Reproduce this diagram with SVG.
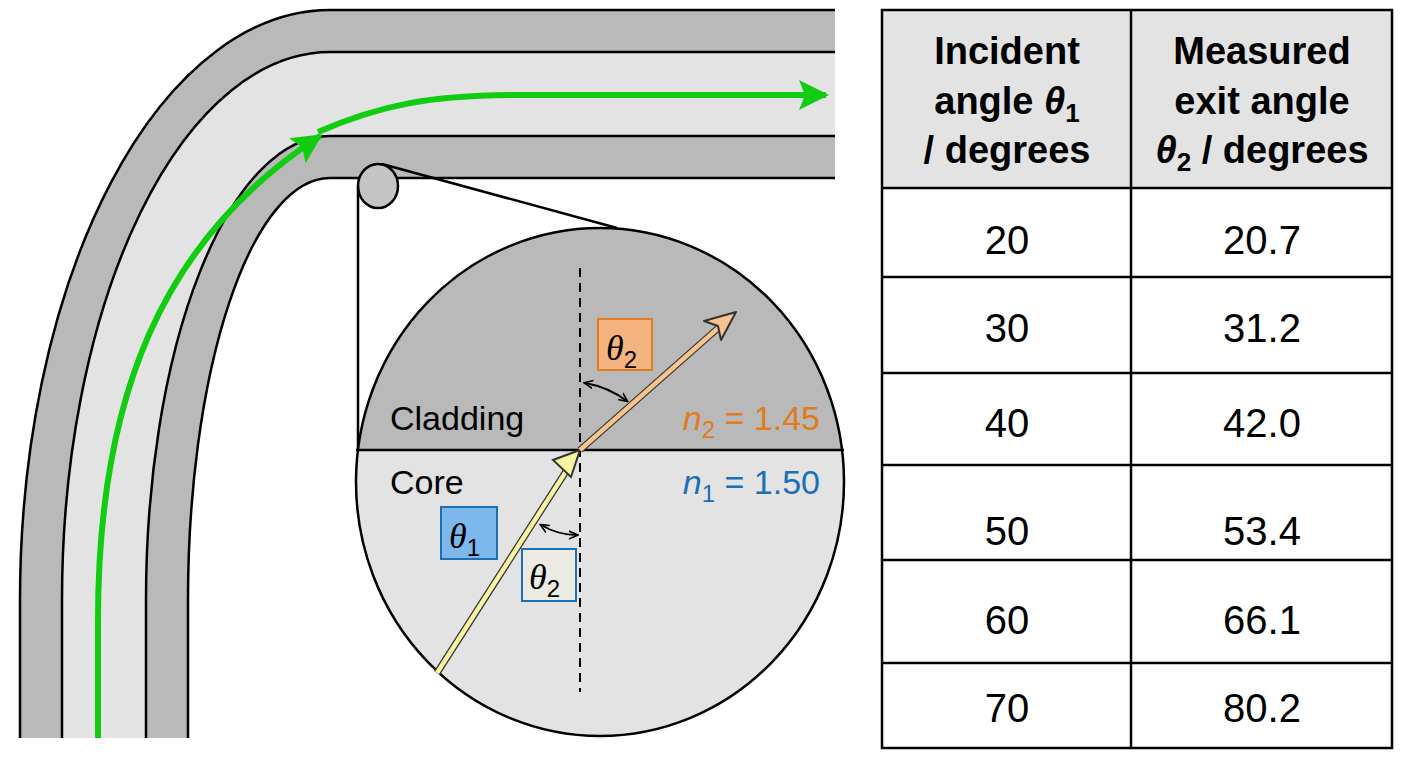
<svg xmlns="http://www.w3.org/2000/svg" width="1408" height="768" viewBox="0 0 1408 768">
<style>
.ln{stroke:#000;stroke-width:2.5;fill:none}
.t{font-family:"Liberation Sans",Arial,sans-serif}
.hd{font-family:"Liberation Sans",Arial,sans-serif;font-weight:bold;font-size:38px;text-anchor:middle}
.num{font-family:"Liberation Sans",Arial,sans-serif;font-size:40px;text-anchor:middle}
.th{font-family:"Liberation Serif","Times New Roman",serif;font-style:italic}
</style>
<defs>
<marker id="ga" viewBox="0 0 10 10" refX="9" refY="5" markerWidth="5" markerHeight="5" orient="auto" markerUnits="strokeWidth"><path d="M0,0L10,5L0,10L2,5z" fill="#11cc11"/></marker>
<marker id="da" viewBox="0 0 10 10" refX="8" refY="5" markerWidth="5" markerHeight="5" orient="auto-start-reverse"><path d="M0,1L9,5L0,9" fill="none" stroke="#000" stroke-width="1.6"/></marker>
</defs>
<rect width="1408" height="768" fill="#fff"/>
<g id="fiber">
<path d="M20,738 V600 A310,590 0 0 1 330,10 H835 V178 H330 A142,422 0 0 0 188,600 V738 Z" fill="#b9b9b9"/>
<path d="M62,738 V600 A268,548 0 0 1 330,52 H835 V136 H330 A184,464 0 0 0 146,600 V738 Z" fill="#e3e3e3"/>
<path class="ln" d="M20,738 V600 A310,590 0 0 1 330,10 H835"/>
<path class="ln" d="M62,738 V600 A268,548 0 0 1 330,52 H835"/>
<path class="ln" d="M146,738 V600 A184,464 0 0 1 330,136 H835"/>
<path class="ln" d="M188,738 V600 A142,422 0 0 1 330,178 H835"/>
</g>
<g id="lightpath">
<path d="M98,738 V620 C98,400 160,240 320,136" fill="none" stroke="#11cc11" stroke-width="6" marker-end="url(#ga)"/>
<path d="M318,132 C380,105 430,95 520,95 H826" fill="none" stroke="#11cc11" stroke-width="6" marker-end="url(#ga)"/>
</g>
<g id="zoom">
<ellipse cx="378" cy="186" rx="20" ry="22" fill="#c4c4c4" stroke="#000" stroke-width="2.5"/>
<line class="ln" x1="358" y1="186" x2="358" y2="450"/>
<line class="ln" x1="382" y1="164" x2="617" y2="228"/>
</g>
<g id="detail">
<clipPath id="cc"><ellipse cx="600" cy="482" rx="244" ry="254"/></clipPath>
<g clip-path="url(#cc)">
<rect x="340" y="220" width="520" height="230" fill="#b9b9b9"/>
<rect x="340" y="450" width="520" height="300" fill="#e3e3e3"/>
</g>
<ellipse cx="600" cy="482" rx="244" ry="254" fill="none" stroke="#000" stroke-width="2.5"/>
<line x1="356" y1="450" x2="844" y2="450" stroke="#000" stroke-width="2.5"/>
<line x1="580" y1="268" x2="580" y2="692" stroke="#000" stroke-width="2" stroke-dasharray="9,6"/>
<path d="M437,673 L572,462" stroke="#333" stroke-width="7"/>
<path d="M437,673 L572,462" stroke="#f7f3a0" stroke-width="4.5"/>
<path d="M580,450 L553,460 L571,477 Z" fill="#f7f3a0" stroke="#333" stroke-width="2"/>
<path d="M580,450 L725,322" stroke="#333" stroke-width="7"/>
<path d="M580,450 L725,322" stroke="#f6c48c" stroke-width="4.5"/>
<path d="M736,312 L704,321 L718,326 L721,340 Z" fill="#f6c48c" stroke="#333" stroke-width="2" stroke-linejoin="round"/>
<path d="M585,383 Q608,387 627,401" fill="none" stroke="#000" stroke-width="2" marker-start="url(#da)" marker-end="url(#da)"/>
<path d="M541,525 Q558,535 577,535" fill="none" stroke="#000" stroke-width="2" marker-start="url(#da)" marker-end="url(#da)"/>
<rect x="598" y="319" width="54" height="51" fill="#f5b380" stroke="#e07b20" stroke-width="2"/>
<text x="606" y="360" class="th" font-size="36">θ<tspan class="t" font-style="normal" font-size="24" dy="8">2</tspan></text>
<rect x="441" y="507" width="56" height="52" fill="#7db8ec" stroke="#1a6fb5" stroke-width="2"/>
<text x="449" y="548" class="th" font-size="36">θ<tspan class="t" font-style="normal" font-size="24" dy="8">1</tspan></text>
<rect x="522" y="549" width="54" height="52" fill="#ecebe3" stroke="#1a6fb5" stroke-width="2"/>
<text x="529" y="589" class="th" font-size="36">θ<tspan class="t" font-style="normal" font-size="24" dy="8">2</tspan></text>
<text x="390" y="430" class="t" font-size="34">Cladding</text>
<text x="390" y="494" class="t" font-size="34">Core</text>
<text x="820" y="430" class="t" font-size="34" fill="#e07b20" text-anchor="end"><tspan font-style="italic">n</tspan><tspan font-size="24" dy="8">2</tspan><tspan dy="-8"> = 1.45</tspan></text>
<text x="820" y="494" class="t" font-size="34" fill="#1a6fb5" text-anchor="end"><tspan font-style="italic">n</tspan><tspan font-size="24" dy="8">1</tspan><tspan dy="-8"> = 1.50</tspan></text>
</g>
<g id="table">
<rect x="882" y="10" width="510" height="178" fill="#e3e3e3"/>
<rect x="882" y="10" width="510" height="738" fill="none" stroke="#000" stroke-width="2.5"/>
<g stroke="#000" stroke-width="2.5">
<line x1="1131" y1="10" x2="1131" y2="748"/>
<line x1="882" y1="188" x2="1392" y2="188"/>
<line x1="882" y1="277" x2="1392" y2="277"/>
<line x1="882" y1="373" x2="1392" y2="373"/>
<line x1="882" y1="465" x2="1392" y2="465"/>
<line x1="882" y1="560" x2="1392" y2="560"/>
<line x1="882" y1="663" x2="1392" y2="663"/>
</g>
<text class="hd" x="1007" y="64">Incident</text>
<text class="hd" x="1007" y="114">angle <tspan font-style="italic">θ</tspan><tspan font-size="26" dy="8">1</tspan></text>
<text class="hd" x="1007" y="163">/ degrees</text>
<text class="hd" x="1262" y="64">Measured</text>
<text class="hd" x="1262" y="114">exit angle</text>
<text class="hd" x="1262" y="163"><tspan font-style="italic">θ</tspan><tspan font-size="26" dy="8">2</tspan><tspan dy="-8"> / degrees</tspan></text>
<text class="num" x="1007" y="254">20</text><text class="num" x="1262" y="254">20.7</text>
<text class="num" x="1007" y="342">30</text><text class="num" x="1262" y="342">31.2</text>
<text class="num" x="1007" y="437">40</text><text class="num" x="1262" y="437">42.0</text>
<text class="num" x="1007" y="545">50</text><text class="num" x="1262" y="545">53.4</text>
<text class="num" x="1007" y="634">60</text><text class="num" x="1262" y="634">66.1</text>
<text class="num" x="1007" y="722">70</text><text class="num" x="1262" y="722">80.2</text>
</g>
</svg>
